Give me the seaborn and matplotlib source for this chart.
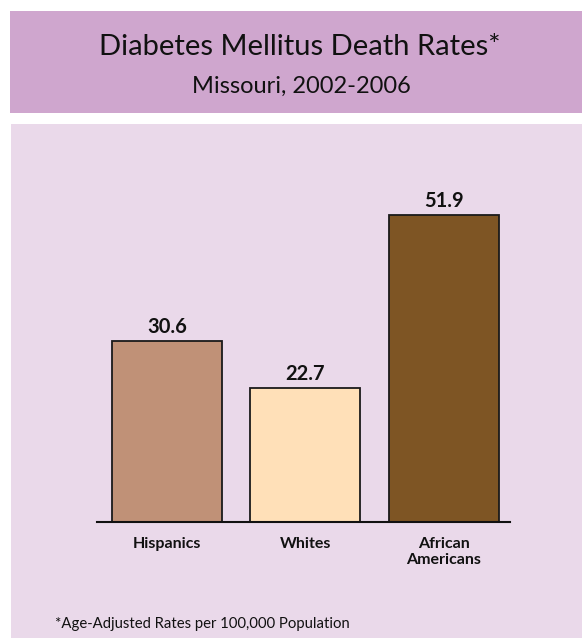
import matplotlib
matplotlib.use("Agg")
import matplotlib.pyplot as plt
import seaborn as sns
import pandas as pd
from matplotlib.patches import Rectangle

categories = ["Hispanics", "Whites", "African\nAmericans"]
values = [30.6, 22.7, 51.9]
colors = ["#C09177", "#FFE0B8", "#7E5524"]

sns.set_theme(style="white")
plt.rcParams["font.family"] = ["Lato", "DejaVu Sans"]

W, H = 582, 638
fig = plt.figure(figsize=(W / 100, H / 100), dpi=100)
fig.patch.set_facecolor("white")

# title band and panel background
fig.patches.append(Rectangle((10 / W, 1 - 113 / H), 1 - 10 / W, 102 / H,
                             transform=fig.transFigure, facecolor="#CFA6CE",
                             edgecolor="none", zorder=-5))
fig.patches.append(Rectangle((11 / W, 0), 1 - 11 / W, 1 - 124 / H,
                             transform=fig.transFigure, facecolor="#EAD9EA",
                             edgecolor="none", zorder=-5))

fig.text(300 / W, 1 - 55 / H, "Diabetes Mellitus Death Rates*",
         ha="center", va="baseline", fontsize=21, color="#111111")
fig.text(301 / W, 1 - 93 / H, "Missouri, 2002-2006",
         ha="center", va="baseline", fontsize=17, color="#111111")
fig.text(55 / W, 1 - 628 / H, "*Age-Adjusted Rates per 100,000 Population",
         ha="left", va="baseline", fontsize=10.7, color="#111111")

ymax = 60
base = 521.7
pxu = 5.9
top = base - ymax * pxu
ax = fig.add_axes([97 / W, 1 - base / H, (510 - 97) / W, (base - top) / H])
ax.set_facecolor("none")
ax.set_zorder(2)

df = pd.DataFrame({"cat": categories, "val": values})
sns.barplot(data=df, x="cat", y="val", hue="cat", palette=colors,
            width=0.794, edgecolor="#1a1a1a", linewidth=1.3, legend=False,
            ax=ax, saturation=1)

for c in ax.containers:
    ax.bar_label(c, fmt="%.1f", padding=3, fontsize=14.5, fontweight="bold",
                 color="#111111")

ax.set_ylim(0, ymax)
ax.set_xlim(-0.505, 2.477)
ax.set_xlabel("")
ax.set_ylabel("")
ax.set_yticks([])
ax.tick_params(axis="x", length=0, pad=11)
for lbl in ax.get_xticklabels():
    lbl.set_fontweight("bold")
    lbl.set_fontsize(11.5)
    lbl.set_color("#111111")
    lbl.set_verticalalignment("top")
    lbl.set_linespacing(1.2)
for s in ["top", "right", "left"]:
    ax.spines[s].set_visible(False)
ax.spines["bottom"].set_color("#111111")
ax.spines["bottom"].set_linewidth(1.5)

fig.savefig("out.png", dpi=100)
